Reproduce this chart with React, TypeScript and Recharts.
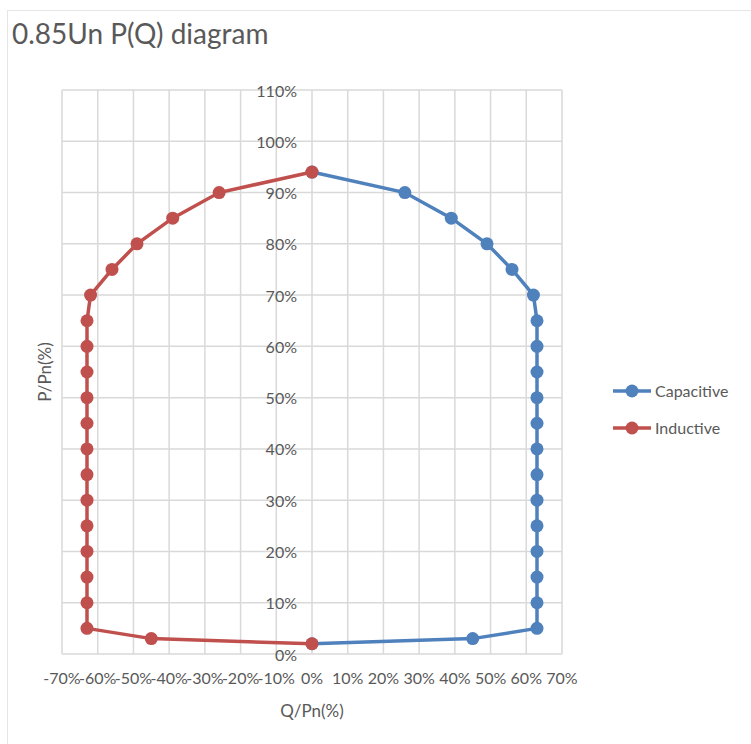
import React from "react";
import {
  ScatterChart,
  Scatter,
  XAxis,
  YAxis,
  CartesianGrid,
  Legend,
  Label,
} from "recharts";

// axis ticks (percent)
const qTicks = [-70, -60, -50, -40, -30, -20, -10, 0, 10, 20, 30, 40, 50, 60, 70];
const pTicks = [0, 10, 20, 30, 40, 50, 60, 70, 80, 90, 100, 110];

// capacitive branch, Q/Pn and P/Pn in %
const capacitiveQ = [0, 45, 63, 63, 63, 63, 63, 63, 63, 63, 63, 63, 63, 63, 63, 62, 56, 49, 39, 26, 0];
const capacitiveP = [2, 3, 5, 10, 15, 20, 25, 30, 35, 40, 45, 50, 55, 60, 65, 70, 75, 80, 85, 90, 94];

// inductive branch
const inductiveQ = [0, -45, -63, -63, -63, -63, -63, -63, -63, -63, -63, -63, -63, -63, -63, -62, -56, -49, -39, -26, 0];
const inductiveP = [2, 3, 5, 10, 15, 20, 25, 30, 35, 40, 45, 50, 55, 60, 65, 70, 75, 80, 85, 90, 94];

const capacitive = capacitiveQ.map((q, i) => ({ q, p: capacitiveP[i] }));
const inductive = inductiveQ.map((q, i) => ({ q, p: inductiveP[i] }));

const BLUE = "#4F81BD";
const RED = "#C0504D";
const TEXT = "#595959";

const W = 743;
const H = 733;
const Y_W = 1;
const margin = { top: 79, right: 189, bottom: 20, left: 54 - Y_W };
const plotW = W - margin.left - Y_W - margin.right;

const pct = (v: number) => `${v}%`;

// y labels sit next to the Q = 0 line, like excel does
const YTick = (props: any) => {
  const { y, payload } = props;
  return (
    <text
      x={margin.left + Y_W + plotW / 2 - 15}
      y={y}
      textAnchor="end"
      dominantBaseline="central"
      fill={TEXT}
      fontSize={16}
    >
      {pct(payload.value)}
    </text>
  );
};

const dot = (color: string) => (props: any) =>
  <circle cx={props.cx} cy={props.cy} r={6.5} fill={color} />;

const LegendBox = (props: any) => {
  const { payload } = props;
  return (
    <div>
      {(payload || []).map((entry: any) => (
        <div
          key={entry.value}
          style={{ height: 37, display: "flex", alignItems: "center" }}
        >
          <svg width={38} height={14} style={{ marginRight: 4 }}>
            <line x1={0} y1={7} x2={38} y2={7} stroke={entry.color} strokeWidth={3.5} />
            <circle cx={19} cy={7} r={6.5} fill={entry.color} />
          </svg>
          <span style={{ color: TEXT, fontSize: 16 }}>{entry.value}</span>
        </div>
      ))}
    </div>
  );
};

export default function App() {
  return (
    <div
      style={{
        position: "absolute",
        left: 7,
        top: 10,
        width: 744,
        height: 734,
        boxSizing: "border-box",
        borderTop: "1px solid #e6e6e6",
        borderLeft: "1px solid #e6e6e6",
        fontFamily: "Lato, 'Open Sans', sans-serif",
        background: "#fff",
      }}
    >
      <div
        style={{
          position: "absolute",
          left: 4,
          top: 6,
          fontSize: 28,
          lineHeight: "32px",
          color: TEXT,
          zIndex: 1,
        }}
      >
        0.85Un P(Q) diagram
      </div>
      <ScatterChart width={W} height={H} margin={margin}>
        <CartesianGrid stroke="#d9d9d9" strokeWidth={1.5} />
        <XAxis
          type="number"
          dataKey="q"
          domain={[-70, 70]}
          ticks={qTicks}
          tickFormatter={pct}
          axisLine={false}
          tickLine={false}
          tick={{ fill: TEXT, fontSize: 16 }}
          tickMargin={13}
          height={70}
          interval={0}
        >
          <Label
            value="Q/Pn(%)"
            position="insideTop"
            offset={51}
            fill={TEXT}
            fontSize={17}
          />
        </XAxis>
        <YAxis
          type="number"
          dataKey="p"
          domain={[0, 110]}
          ticks={pTicks}
          width={Y_W}
          axisLine={false}
          tickLine={false}
          tick={<YTick />}
          interval={0}
        >
          <Label
            value="P/Pn(%)"
            position="center"
            angle={-90}
            dx={-17}
            fill={TEXT}
            fontSize={17}
          />
        </YAxis>
        <Legend
          layout="vertical"
          align="center"
          verticalAlign="middle"
          wrapperStyle={{ left: 605, top: 361, width: 140 }}
          content={<LegendBox />}
        />
        <Scatter
          name="Capacitive"
          data={capacitive}
          fill={BLUE}
          line={{ stroke: BLUE, strokeWidth: 3.5 }}
          shape={dot(BLUE)}
          isAnimationActive={false}
        />
        <Scatter
          name="Inductive"
          data={inductive}
          fill={RED}
          line={{ stroke: RED, strokeWidth: 3.5 }}
          shape={dot(RED)}
          isAnimationActive={false}
        />
      </ScatterChart>
    </div>
  );
}
